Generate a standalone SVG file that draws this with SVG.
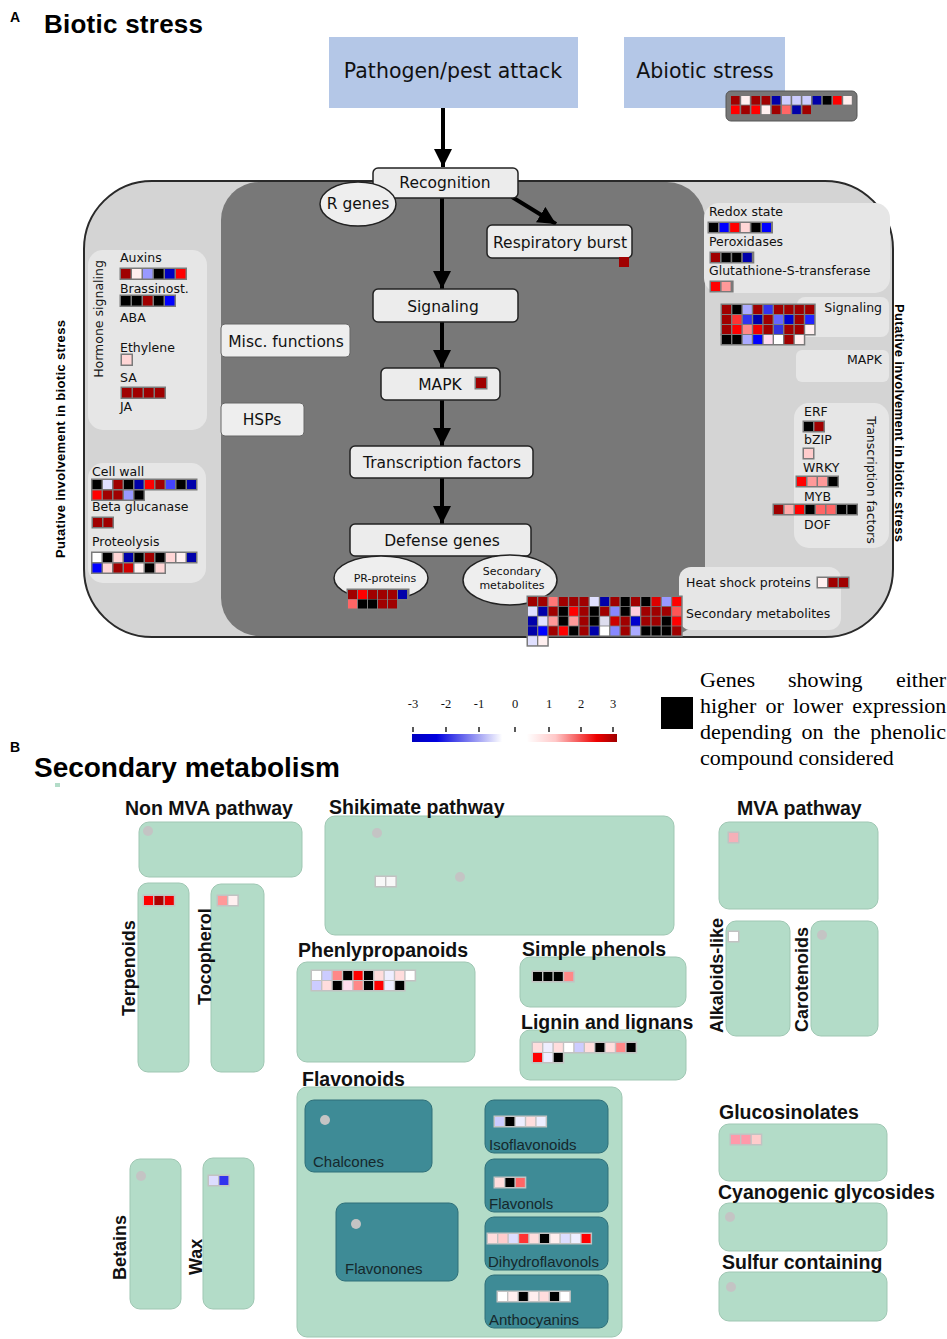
<svg xmlns="http://www.w3.org/2000/svg" width="947" height="1339" viewBox="0 0 947 1339">
<style>
.dr{fill:#a00000}.r{fill:#ff0000}.k{fill:#000}.b{fill:#0000aa}.bb{fill:#0000ff}.lv{fill:#9999ff}.lw{fill:#e0e0ff}.pk{fill:#ffd6d6}.pw{fill:#fff0f0}.sa{fill:#ff6666}.sp{fill:#ff9999}.w{fill:#fff}.mb{fill:#3333ee}
.bgA{fill:#7a7a7a}.bgB{fill:#c2c2c2}
.t{font-family:"DejaVu Sans",sans-serif;fill:#111}
.lab{font-family:"DejaVu Sans",sans-serif;font-size:12.5px;fill:#111}
.node{fill:#ececec;stroke:#222;stroke-width:1.5}
.nl{font-family:"DejaVu Sans",sans-serif;font-size:15.5px;fill:#111;text-anchor:middle}
.pan{fill:#e6e6e6}
.gb{fill:#b3dcc8;stroke:#9fc7b3;stroke-width:1}
.tb{fill:#3e8b96;stroke:#2e6f79;stroke-width:1}
.bt{font-family:"Liberation Sans",Arial,sans-serif;font-weight:bold;font-size:19.5px;fill:#111}
.vt{font-family:"Liberation Sans",Arial,sans-serif;font-weight:bold;font-size:18px;fill:#111}
.fl{font-family:"Liberation Sans",Arial,sans-serif;font-size:15px;fill:#15282c}
.dot{fill:#c4c4c4}
.sc{font-family:"Liberation Serif","Times New Roman",serif;font-size:12.5px;fill:#111;text-anchor:middle}
.lg{font-family:"Liberation Serif","Times New Roman",serif;font-size:22px;fill:#000}
</style>
<defs>
<marker id="ah" markerUnits="userSpaceOnUse" viewBox="0 0 16 16" refX="16" refY="8" markerWidth="18" markerHeight="18" orient="auto">
<path d="M0,0 L16,8 L0,16 z" fill="#000"/>
</marker>
<linearGradient id="grad" x1="412" y1="0" x2="617" y2="0" gradientUnits="userSpaceOnUse">
<stop offset="0" stop-color="#0000c0"/>
<stop offset="0.12" stop-color="#0000e0"/>
<stop offset="0.44" stop-color="#ffffff"/>
<stop offset="0.56" stop-color="#ffffff"/>
<stop offset="0.7" stop-color="#ffc8c8"/>
<stop offset="0.9" stop-color="#ee0000"/>
<stop offset="1" stop-color="#a00000"/>
</linearGradient>
</defs>
<rect width="947" height="1339" fill="#fff"/>

<!-- Section A header -->
<text x="10" y="22" font-family="Liberation Sans,Arial,sans-serif" font-weight="bold" font-size="14">A</text>
<text x="44" y="33" font-family="Liberation Sans,Arial,sans-serif" font-weight="bold" font-size="26" textLength="159">Biotic stress</text>

<g id="pathogen">
<rect x="329" y="37" width="249" height="71" fill="#b4c7e7"/>
<text class="t" x="453" y="78" font-size="20.5" text-anchor="middle">Pathogen/pest attack</text>
</g>
<g id="abiotic">
<rect x="624" y="37" width="161" height="71" fill="#b4c7e7"/>
<text class="t" x="705" y="78" font-size="20.5" text-anchor="middle">Abiotic stress</text>
<rect x="726" y="91" width="131" height="30" rx="5" fill="#777" stroke="#555"/>
<g>
<rect class="dr" x="731" y="96" width="8.6" height="8.6"/><rect class="pw" x="741.2" y="96" width="8.6" height="8.6"/><rect class="dr" x="751.4" y="96" width="8.6" height="8.6"/><rect class="dr" x="761.6" y="96" width="8.6" height="8.6"/><rect class="b" x="771.8" y="96" width="8.6" height="8.6"/><rect fill="#ccccff" x="782" y="96" width="8.6" height="8.6"/><rect fill="#ccccff" x="792.2" y="96" width="8.6" height="8.6"/><rect fill="#ccccff" x="802.4" y="96" width="8.6" height="8.6"/><rect class="b" x="812.6" y="96" width="8.6" height="8.6"/><rect class="k" x="822.8" y="96" width="8.6" height="8.6"/><rect class="r" x="833" y="96" width="8.6" height="8.6"/><rect class="pw" x="843.2" y="96" width="8.6" height="8.6"/>
<rect class="r" x="731" y="105.5" width="8.6" height="8.6"/><rect class="dr" x="741.2" y="105.5" width="8.6" height="8.6"/><rect class="r" x="751.4" y="105.5" width="8.6" height="8.6"/><rect class="pw" x="761.6" y="105.5" width="8.6" height="8.6"/><rect class="dr" x="771.8" y="105.5" width="8.6" height="8.6"/><rect class="sa" x="782" y="105.5" width="8.6" height="8.6"/><rect class="b" x="792.2" y="105.5" width="8.6" height="8.6"/><rect class="dr" x="802.4" y="105.5" width="8.6" height="8.6"/>
</g>
</g>

<!-- Outer area -->
<g id="biotic-area">
<rect x="84" y="181" width="809" height="456" rx="68" fill="#d4d4d4" stroke="#2a2a2a" stroke-width="2"/>
<rect x="221" y="182" width="484" height="454" rx="38" fill="#787878"/>
<text x="65" y="439" transform="rotate(-90 65 439)" font-family="Liberation Sans,Arial,sans-serif" font-weight="bold" font-size="13" text-anchor="middle" textLength="238">Putative involvement in biotic stress</text>
<text x="895" y="423" transform="rotate(90 895 423)" font-family="Liberation Sans,Arial,sans-serif" font-weight="bold" font-size="13" text-anchor="middle" textLength="238">Putative involvement in biotic stress</text>
</g>

<!-- Hormone signaling panel -->
<g id="hormone">
<rect class="pan" x="88" y="250" width="119" height="180" rx="15"/>
<text class="lab" x="103" y="319" transform="rotate(-90 103 319)" text-anchor="middle" font-size="13">Hormone signaling</text>
<text class="lab" x="120" y="262">Auxins</text>
<rect class="bgA" x="119.5" y="267.5" width="67.5" height="12.5"/>
<rect class="dr" x="121" y="269" width="9.5" height="9.5"/><rect class="pw" x="132" y="269" width="9.5" height="9.5"/><rect class="lv" x="143" y="269" width="9.5" height="9.5"/><rect class="k" x="154" y="269" width="9.5" height="9.5"/><rect fill="#0000c0" x="165" y="269" width="9.5" height="9.5"/><rect class="r" x="176" y="269" width="9.5" height="9.5"/>
<text class="lab" x="120" y="293">Brassinost.</text>
<rect class="bgA" x="119.5" y="294.5" width="56.5" height="12.5"/>
<rect class="k" x="121" y="296" width="9.5" height="9.5"/><rect class="k" x="132" y="296" width="9.5" height="9.5"/><rect class="dr" x="143" y="296" width="9.5" height="9.5"/><rect class="k" x="154" y="296" width="9.5" height="9.5"/><rect class="bb" x="165" y="296" width="9.5" height="9.5"/>
<text class="lab" x="120" y="322">ABA</text>
<text class="lab" x="120" y="352">Ethylene</text>
<rect class="bgA" x="120.5" y="353.5" width="12.5" height="12.5"/>
<rect class="pk" x="122" y="355" width="9.5" height="9.5"/>
<text class="lab" x="120" y="382">SA</text>
<rect class="bgA" x="120.5" y="386.5" width="45.5" height="12.5"/>
<rect class="dr" x="122" y="388" width="9.5" height="9.5"/><rect class="dr" x="133" y="388" width="9.5" height="9.5"/><rect class="dr" x="144" y="388" width="9.5" height="9.5"/><rect class="dr" x="155" y="388" width="9.5" height="9.5"/>
<text class="lab" x="120" y="411">JA</text>
</g>

<!-- Cell wall panel -->
<g id="cellwall">
<rect class="pan" x="88" y="463" width="118" height="120" rx="15"/>
<text class="lab" x="92" y="476">Cell wall</text>
<rect class="bgA" x="91" y="478.5" width="106.5" height="12"/>
<rect class="bgA" x="91" y="489" width="54" height="12"/>
<rect class="k" x="92.5" y="480" width="9" height="9"/><rect class="lw" x="103" y="480" width="9" height="9"/><rect class="dr" x="113.5" y="480" width="9" height="9"/><rect class="k" x="124" y="480" width="9" height="9"/><rect class="b" x="134.5" y="480" width="9" height="9"/><rect class="r" x="145" y="480" width="9" height="9"/><rect class="dr" x="155.5" y="480" width="9" height="9"/><rect fill="#4444ff" x="166" y="480" width="9" height="9"/><rect class="k" x="176.5" y="480" width="9" height="9"/><rect class="b" x="187" y="480" width="9" height="9"/>
<rect class="r" x="92.5" y="490.5" width="9" height="9"/><rect class="dr" x="103" y="490.5" width="9" height="9"/><rect class="dr" x="113.5" y="490.5" width="9" height="9"/><rect class="lv" x="124" y="490.5" width="9" height="9"/><rect class="k" x="134.5" y="490.5" width="9" height="9"/>
<text class="lab" x="92" y="511">Beta glucanase</text>
<rect class="bgA" x="91.5" y="516.5" width="22.5" height="12"/>
<rect class="dr" x="93" y="518" width="9" height="9"/><rect class="dr" x="103.5" y="518" width="9" height="9"/>
<text class="lab" x="92" y="546">Proteolysis</text>
<rect class="bgA" x="91" y="551.5" width="106.5" height="12"/>
<rect class="bgA" x="91" y="562" width="75" height="12"/>
<rect class="w" x="92.5" y="553" width="9" height="9"/><rect class="k" x="103" y="553" width="9" height="9"/><rect class="pk" x="113.5" y="553" width="9" height="9"/><rect class="b" x="124" y="553" width="9" height="9"/><rect class="k" x="134.5" y="553" width="9" height="9"/><rect class="dr" x="145" y="553" width="9" height="9"/><rect class="k" x="155.5" y="553" width="9" height="9"/><rect class="pk" x="166" y="553" width="9" height="9"/><rect class="pw" x="176.5" y="553" width="9" height="9"/><rect class="b" x="187" y="553" width="9" height="9"/>
<rect class="bb" x="92.5" y="563.5" width="9" height="9"/><rect class="pk" x="103" y="563.5" width="9" height="9"/><rect class="dr" x="113.5" y="563.5" width="9" height="9"/><rect fill="#d00000" x="124" y="563.5" width="9" height="9"/><rect class="pw" x="134.5" y="563.5" width="9" height="9"/><rect class="k" x="145" y="563.5" width="9" height="9"/><rect class="pk" x="155.5" y="563.5" width="9" height="9"/>
</g>

<!-- Right panels -->
<g id="redox">
<rect class="pan" x="704" y="203" width="186" height="90" rx="15"/>
<text class="lab" x="709" y="216">Redox state</text>
<rect class="bgA" x="707.5" y="221.5" width="65.5" height="12"/>
<rect class="k" x="709" y="223" width="9" height="9"/><rect class="bb" x="719.6" y="223" width="9" height="9"/><rect class="r" x="730.2" y="223" width="9" height="9"/><rect class="pk" x="740.8" y="223" width="9" height="9"/><rect class="k" x="751.4" y="223" width="9" height="9"/><rect class="bb" x="762" y="223" width="9" height="9"/>
<text class="lab" x="709" y="246">Peroxidases</text>
<rect class="bgA" x="709.5" y="251.5" width="44.8" height="12"/>
<rect class="dr" x="711" y="253" width="9" height="9"/><rect class="k" x="721.6" y="253" width="9" height="9"/><rect class="k" x="732.2" y="253" width="9" height="9"/><rect class="b" x="742.8" y="253" width="9" height="9"/>
<text class="lab" x="709" y="275">Glutathione-S-transferase</text>
<rect class="bgA" x="709.5" y="280.5" width="24.1" height="12"/>
<rect class="r" x="711" y="282" width="9" height="9"/><rect class="sp" x="721.6" y="282" width="9" height="9"/>
</g>
<g id="signaling-right">
<rect class="pan" x="797" y="297" width="92" height="40" rx="8"/>
<text class="lab" x="882" y="312" text-anchor="end">Signaling</text>
<rect class="bgA" x="720.5" y="303.5" width="95.2" height="32"/>
<rect class="bgA" x="720.5" y="333.5" width="84.8" height="12"/>
<rect class="dr" x="722" y="305" width="9" height="9"/><rect class="k" x="732.4" y="305" width="9" height="9"/><rect fill="#aaaaff" x="742.8" y="305" width="9" height="9"/><rect class="dr" x="753.2" y="305" width="9" height="9"/><rect class="mb" x="763.6" y="305" width="9" height="9"/><rect class="dr" x="774" y="305" width="9" height="9"/><rect class="dr" x="784.4" y="305" width="9" height="9"/><rect class="dr" x="794.8" y="305" width="9" height="9"/><rect class="dr" x="805.2" y="305" width="9" height="9"/>
<rect class="dr" x="722" y="315" width="9" height="9"/><rect fill="#ff3333" x="732.4" y="315" width="9" height="9"/><rect class="mb" x="742.8" y="315" width="9" height="9"/><rect class="b" x="753.2" y="315" width="9" height="9"/><rect class="dr" x="763.6" y="315" width="9" height="9"/><rect fill="#6666ff" x="774" y="315" width="9" height="9"/><rect fill="#0000cc" x="784.4" y="315" width="9" height="9"/><rect class="dr" x="794.8" y="315" width="9" height="9"/><rect fill="#2222ff" x="805.2" y="315" width="9" height="9"/>
<rect class="dr" x="722" y="325" width="9" height="9"/><rect class="r" x="732.4" y="325" width="9" height="9"/><rect fill="#ff8888" x="742.8" y="325" width="9" height="9"/><rect fill="#ee0000" x="753.2" y="325" width="9" height="9"/><rect class="dr" x="763.6" y="325" width="9" height="9"/><rect fill="#3333dd" x="774" y="325" width="9" height="9"/><rect class="dr" x="784.4" y="325" width="9" height="9"/><rect class="dr" x="794.8" y="325" width="9" height="9"/><rect class="pw" x="805.2" y="325" width="9" height="9"/>
<rect class="k" x="722" y="335" width="9" height="9"/><rect class="k" x="732.4" y="335" width="9" height="9"/><rect fill="#aaaaff" x="742.8" y="335" width="9" height="9"/><rect class="bb" x="753.2" y="335" width="9" height="9"/><rect fill="#ffddee" x="763.6" y="335" width="9" height="9"/><rect class="w" x="774" y="335" width="9" height="9"/><rect class="dr" x="784.4" y="335" width="9" height="9"/><rect class="pw" x="794.8" y="335" width="9" height="9"/>
</g>
<g id="mapk-right">
<rect class="pan" x="796" y="350" width="93" height="32" rx="6"/>
<text class="lab" x="882" y="364" text-anchor="end">MAPK</text>
</g>
<g id="tf-right">
<rect class="pan" x="794" y="403" width="95" height="145" rx="15"/>
<text class="lab" x="867" y="480" transform="rotate(90 867 480)" text-anchor="middle" font-size="13">Transcription factors</text>
<text class="lab" x="804" y="416">ERF</text>
<rect class="bgA" x="802.5" y="420.5" width="22.5" height="12"/>
<rect class="k" x="804" y="422" width="9" height="9"/><rect class="dr" x="814.5" y="422" width="9" height="9"/>
<text class="lab" x="804" y="444">bZIP</text>
<rect class="bgA" x="802.5" y="447.5" width="12" height="12"/>
<rect fill="#ffcccc" x="804" y="449" width="9" height="9"/>
<text class="lab" x="803" y="472">WRKY</text>
<rect class="bgA" x="795.5" y="475.5" width="43.5" height="12"/>
<rect class="r" x="797" y="477" width="9" height="9"/><rect class="sp" x="807.5" y="477" width="9" height="9"/><rect class="sp" x="818" y="477" width="9" height="9"/><rect class="k" x="828.5" y="477" width="9" height="9"/>
<text class="lab" x="804" y="501">MYB</text>
<rect class="bgA" x="772.5" y="503.5" width="85.5" height="12"/>
<rect class="dr" x="774" y="505" width="9" height="9"/><rect fill="#ffaaaa" x="784.5" y="505" width="9" height="9"/><rect class="r" x="795" y="505" width="9" height="9"/><rect class="k" x="805.5" y="505" width="9" height="9"/><rect class="sa" x="816" y="505" width="9" height="9"/><rect class="sa" x="826.5" y="505" width="9" height="9"/><rect class="k" x="837" y="505" width="9" height="9"/><rect class="k" x="847.5" y="505" width="9" height="9"/>
<text class="lab" x="804" y="529">DOF</text>
</g>
<g id="hsp-secmet-right">
<rect class="pan" x="679" y="567" width="162" height="63" rx="12"/>
<text class="lab" x="686" y="587">Heat shock proteins</text>
<rect class="bgA" x="816.5" y="576.5" width="33" height="12"/>
<rect class="pw" x="818" y="578" width="9" height="9"/><rect class="dr" x="828.5" y="578" width="9" height="9"/><rect class="dr" x="839" y="578" width="9" height="9"/>
<text class="lab" x="686" y="618">Secondary metabolites</text>
</g>

<!-- Side boxes in dark area -->
<g id="misc"><rect x="221" y="324" width="129" height="33" rx="4" fill="#eeeeee" stroke="#666" stroke-width="1"/><text class="nl" x="286" y="347">Misc. functions</text></g>
<g id="hsps"><rect x="221" y="403" width="83" height="33" rx="4" fill="#eeeeee" stroke="#666" stroke-width="1"/><text class="nl" x="262" y="425">HSPs</text></g>

<!-- Connectors -->
<g id="connectors" stroke="#000" stroke-width="4" fill="none">
<line x1="443" y1="108" x2="443" y2="167" marker-end="url(#ah)"/>
<line x1="442" y1="198" x2="442" y2="289" marker-end="url(#ah)"/>
<line x1="512" y1="197" x2="556" y2="224" marker-end="url(#ah)"/>
<line x1="442" y1="322" x2="442" y2="368" marker-end="url(#ah)"/>
<line x1="442" y1="400" x2="442" y2="446" marker-end="url(#ah)"/>
<line x1="442" y1="478" x2="442" y2="524" marker-end="url(#ah)"/>
</g>

<!-- Main flow nodes -->
<g id="recognition"><rect class="node" x="373" y="168" width="145" height="30" rx="5"/><text class="nl" x="445" y="188">Recognition</text></g>
<g id="rgenes"><ellipse cx="358" cy="204" rx="38" ry="22" fill="#eeeeee" stroke="#222" stroke-width="1.5"/><text class="nl" x="358" y="209">R genes</text></g>
<g id="respiratory"><rect class="node" x="487" y="225" width="145" height="33" rx="5"/><text class="nl" x="560" y="248">Respiratory burst</text><rect class="dr" x="619" y="257" width="10" height="10"/></g>
<g id="signaling"><rect class="node" x="373" y="289" width="145" height="33" rx="5"/><text class="nl" x="443" y="312">Signaling</text></g>
<g id="mapk"><rect class="node" x="381" y="368" width="119" height="32" rx="5"/><text class="nl" x="440" y="390">MAPK</text><rect class="bgA" x="474.5" y="376.5" width="13" height="13"/><rect class="dr" x="476" y="378" width="10" height="10"/></g>
<g id="tf"><rect class="node" x="350" y="446" width="183" height="32" rx="5"/><text class="nl" x="442" y="468">Transcription factors</text></g>
<g id="defense"><rect class="node" x="350" y="524" width="181" height="32" rx="5"/><text class="nl" x="442" y="546">Defense genes</text></g>
<g id="pr">
<ellipse cx="381" cy="578" rx="47" ry="22" fill="#eeeeee" stroke="#222" stroke-width="1.5"/>
<text class="t" x="385" y="582" font-size="11" text-anchor="middle">PR-proteins</text>
<rect class="bgA" x="346.5" y="588.5" width="63" height="12"/>
<rect class="bgA" x="346.5" y="598" width="53" height="12"/>
<rect class="dr" x="348" y="590" width="9" height="9"/><rect class="r" x="358" y="590" width="9" height="9"/><rect class="dr" x="368" y="590" width="9" height="9"/><rect class="dr" x="378" y="590" width="9" height="9"/><rect class="dr" x="388" y="590" width="9" height="9"/><rect class="b" x="398" y="590" width="9" height="9"/>
<rect class="sa" x="348" y="599.5" width="9" height="9"/><rect class="k" x="358" y="599.5" width="9" height="9"/><rect class="k" x="368" y="599.5" width="9" height="9"/><rect class="dr" x="378" y="599.5" width="9" height="9"/><rect class="dr" x="388" y="599.5" width="9" height="9"/>
</g>
<g id="secmet">
<ellipse cx="510" cy="580" rx="47" ry="25" fill="#eeeeee" stroke="#222" stroke-width="1.5"/>
<text class="t" x="512" y="575" font-size="11" text-anchor="middle">Secondary</text>
<text class="t" x="512" y="589" font-size="11" text-anchor="middle">metabolites</text>
<rect class="bgA" x="526.5" y="595.5" width="156.2" height="41.2"/>
<rect class="bgA" x="526.5" y="634.7" width="22.3" height="12"/>
<rect class="dr" x="528" y="597" width="9" height="9"/><rect class="dr" x="538.3" y="597" width="9" height="9"/><rect fill="#ff7777" x="548.6" y="597" width="9" height="9"/><rect class="dr" x="558.9" y="597" width="9" height="9"/><rect class="dr" x="569.2" y="597" width="9" height="9"/><rect class="dr" x="579.5" y="597" width="9" height="9"/><rect class="lw" x="589.8" y="597" width="9" height="9"/><rect class="b" x="600.1" y="597" width="9" height="9"/><rect class="dr" x="610.4" y="597" width="9" height="9"/><rect class="k" x="620.7" y="597" width="9" height="9"/><rect class="dr" x="631" y="597" width="9" height="9"/><rect class="k" x="641.3" y="597" width="9" height="9"/><rect fill="#dd0000" x="651.6" y="597" width="9" height="9"/><rect class="lv" x="661.9" y="597" width="9" height="9"/><rect class="r" x="672.2" y="597" width="9" height="9"/>
<rect class="lw" x="528" y="606.8" width="9" height="9"/><rect class="b" x="538.3" y="606.8" width="9" height="9"/><rect class="dr" x="548.6" y="606.8" width="9" height="9"/><rect class="k" x="558.9" y="606.8" width="9" height="9"/><rect class="r" x="569.2" y="606.8" width="9" height="9"/><rect class="dr" x="579.5" y="606.8" width="9" height="9"/><rect class="k" x="589.8" y="606.8" width="9" height="9"/><rect class="dr" x="600.1" y="606.8" width="9" height="9"/><rect fill="#8888ff" x="610.4" y="606.8" width="9" height="9"/><rect class="k" x="620.7" y="606.8" width="9" height="9"/><rect fill="#ffccdd" x="631" y="606.8" width="9" height="9"/><rect class="dr" x="641.3" y="606.8" width="9" height="9"/><rect class="dr" x="651.6" y="606.8" width="9" height="9"/><rect class="dr" x="661.9" y="606.8" width="9" height="9"/><rect fill="#ff5555" x="672.2" y="606.8" width="9" height="9"/>
<rect class="b" x="528" y="616.6" width="9" height="9"/><rect class="lw" x="538.3" y="616.6" width="9" height="9"/><rect class="sp" x="548.6" y="616.6" width="9" height="9"/><rect class="k" x="558.9" y="616.6" width="9" height="9"/><rect class="sp" x="569.2" y="616.6" width="9" height="9"/><rect class="dr" x="579.5" y="616.6" width="9" height="9"/><rect class="k" x="589.8" y="616.6" width="9" height="9"/><rect fill="#ddddee" x="600.1" y="616.6" width="9" height="9"/><rect fill="#cc0000" x="610.4" y="616.6" width="9" height="9"/><rect class="dr" x="620.7" y="616.6" width="9" height="9"/><rect fill="#0000cc" x="631" y="616.6" width="9" height="9"/><rect class="dr" x="641.3" y="616.6" width="9" height="9"/><rect class="dr" x="651.6" y="616.6" width="9" height="9"/><rect class="k" x="661.9" y="616.6" width="9" height="9"/><rect class="r" x="672.2" y="616.6" width="9" height="9"/>
<rect class="b" x="528" y="626.4" width="9" height="9"/><rect class="bb" x="538.3" y="626.4" width="9" height="9"/><rect class="dr" x="548.6" y="626.4" width="9" height="9"/><rect class="r" x="558.9" y="626.4" width="9" height="9"/><rect class="k" x="569.2" y="626.4" width="9" height="9"/><rect class="dr" x="579.5" y="626.4" width="9" height="9"/><rect class="b" x="589.8" y="626.4" width="9" height="9"/><rect class="w" x="600.1" y="626.4" width="9" height="9"/><rect fill="#8888ff" x="610.4" y="626.4" width="9" height="9"/><rect class="dr" x="620.7" y="626.4" width="9" height="9"/><rect fill="#aaaaff" x="631" y="626.4" width="9" height="9"/><rect class="k" x="641.3" y="626.4" width="9" height="9"/><rect class="k" x="651.6" y="626.4" width="9" height="9"/><rect class="k" x="661.9" y="626.4" width="9" height="9"/><rect class="dr" x="672.2" y="626.4" width="9" height="9"/>
<rect class="lw" x="528" y="636.2" width="9" height="9"/><rect class="pw" x="538.3" y="636.2" width="9" height="9"/>
</g>

<!-- Legend -->
<g id="legend">
<text class="sc" x="413" y="708">-3</text><text class="sc" x="446" y="708">-2</text><text class="sc" x="479" y="708">-1</text><text class="sc" x="515" y="708">0</text><text class="sc" x="549" y="708">1</text><text class="sc" x="581" y="708">2</text><text class="sc" x="613" y="708">3</text>
<g stroke="#222" stroke-width="1.5"><line x1="413" y1="727" x2="413" y2="732"/><line x1="446" y1="727" x2="446" y2="732"/><line x1="479" y1="727" x2="479" y2="732"/><line x1="515" y1="727" x2="515" y2="732"/><line x1="549" y1="727" x2="549" y2="732"/><line x1="581" y1="727" x2="581" y2="732"/><line x1="613" y1="727" x2="613" y2="732"/></g>
<rect x="412" y="734" width="205" height="8" fill="url(#grad)"/>
<rect x="661" y="697" width="32" height="32" fill="#000"/>
<text class="lg" x="700" y="687">Genes</text>
<text class="lg" x="788" y="687">showing</text>
<text class="lg" x="946" y="687" text-anchor="end">either</text>
<text class="lg" x="700" y="713" word-spacing="3.7">higher or lower expression</text>
<text class="lg" x="700" y="739" word-spacing="4.4">depending on the phenolic</text>
<text class="lg" x="700" y="765">compound considered</text>
</g>

<!-- Section B -->
<text x="10" y="752" font-family="Liberation Sans,Arial,sans-serif" font-weight="bold" font-size="14">B</text>
<text x="34" y="777" font-family="Liberation Sans,Arial,sans-serif" font-weight="bold" font-size="28" textLength="306">Secondary metabolism</text>
<rect x="55" y="783" width="5" height="4" fill="#b3dcc8"/>

<g id="nonmva"><rect class="gb" x="139" y="822" width="163" height="55" rx="10"/><circle class="dot" cx="148" cy="831" r="5"/><text class="bt" x="125" y="815">Non MVA pathway</text></g>
<g id="shikimate"><rect class="gb" x="325" y="816" width="349" height="119" rx="10"/><circle class="dot" cx="377" cy="833" r="5"/><circle class="dot" cx="460" cy="877" r="5"/>
<rect class="bgB" x="374.5" y="875.5" width="22.4" height="12"/><rect fill="#f8f8f8" x="376" y="877" width="9" height="9"/><rect fill="#f8f8f8" x="386.4" y="877" width="9" height="9"/><text class="bt" x="329" y="814">Shikimate pathway</text></g>
<g id="mva"><rect class="gb" x="719" y="822" width="159" height="87" rx="10"/>
<rect class="bgB" x="727.5" y="831.5" width="12" height="12"/><rect fill="#f6b0b8" x="729" y="833" width="9" height="9"/><text class="bt" x="737" y="815">MVA pathway</text></g>
<g id="terpenoids"><rect class="gb" x="138" y="883" width="51" height="189" rx="10"/><text class="vt" x="135" y="1016" transform="rotate(-90 135 1016)">Terpenoids</text>
<rect class="bgB" x="142.5" y="894.5" width="32.8" height="12"/><rect class="r" x="144" y="896" width="9" height="9"/><rect fill="#b00000" x="154.4" y="896" width="9" height="9"/><rect fill="#ee0000" x="164.8" y="896" width="9" height="9"/></g>
<g id="tocopherol"><rect class="gb" x="211" y="884" width="53" height="188" rx="10"/><text class="vt" x="211" y="1005" transform="rotate(-90 211 1005)">Tocopherol</text>
<rect class="bgB" x="216.5" y="894.5" width="22.4" height="12"/><rect class="sp" x="218" y="896" width="9" height="9"/><rect class="pw" x="228.4" y="896" width="9" height="9"/></g>
<g id="phenyl"><rect class="gb" x="297" y="962" width="178" height="100" rx="10"/><text class="bt" x="298" y="957">Phenlypropanoids</text>
<rect class="bgB" x="310.5" y="969.5" width="105.6" height="12"/><rect class="bgB" x="310.5" y="979.5" width="95.2" height="12"/>
<rect class="w" x="312" y="971" width="9" height="9"/><rect fill="#ccccff" x="322.4" y="971" width="9" height="9"/><rect fill="#ff8888" x="332.8" y="971" width="9" height="9"/><rect class="k" x="343.2" y="971" width="9" height="9"/><rect class="r" x="353.6" y="971" width="9" height="9"/><rect class="k" x="364" y="971" width="9" height="9"/><rect fill="#ffdddd" x="374.4" y="971" width="9" height="9"/><rect fill="#eeeeff" x="384.8" y="971" width="9" height="9"/><rect fill="#ffdddd" x="395.2" y="971" width="9" height="9"/><rect class="w" x="405.6" y="971" width="9" height="9"/>
<rect fill="#ccccff" x="312" y="981" width="9" height="9"/><rect fill="#ffdddd" x="322.4" y="981" width="9" height="9"/><rect class="k" x="332.8" y="981" width="9" height="9"/><rect fill="#ffddee" x="343.2" y="981" width="9" height="9"/><rect fill="#ff8888" x="353.6" y="981" width="9" height="9"/><rect class="k" x="364" y="981" width="9" height="9"/><rect class="r" x="374.4" y="981" width="9" height="9"/><rect fill="#eeeeff" x="384.8" y="981" width="9" height="9"/><rect class="k" x="395.2" y="981" width="9" height="9"/></g>
<g id="simplephenols"><rect class="gb" x="520" y="957" width="166" height="50" rx="10"/><text class="bt" x="522" y="956">Simple phenols</text>
<rect class="bgB" x="531.5" y="970.5" width="43.2" height="12"/><rect class="k" x="533" y="972" width="9" height="9"/><rect class="k" x="543.4" y="972" width="9" height="9"/><rect class="k" x="553.8" y="972" width="9" height="9"/><rect fill="#ff8888" x="564.2" y="972" width="9" height="9"/></g>
<g id="lignin"><rect class="gb" x="520" y="1030" width="166" height="50" rx="10"/><text class="bt" x="521" y="1029">Lignin and lignans</text>
<rect class="bgB" x="531.5" y="1041.5" width="105.6" height="12"/><rect class="bgB" x="531.5" y="1051.5" width="32.8" height="12"/>
<rect fill="#ffdddd" x="533" y="1043" width="9" height="9"/><rect fill="#eeeeff" x="543.4" y="1043" width="9" height="9"/><rect fill="#ffdddd" x="553.8" y="1043" width="9" height="9"/><rect class="w" x="564.2" y="1043" width="9" height="9"/><rect fill="#ccccff" x="574.6" y="1043" width="9" height="9"/><rect fill="#ffdddd" x="585" y="1043" width="9" height="9"/><rect class="k" x="595.4" y="1043" width="9" height="9"/><rect fill="#ffdddd" x="605.8" y="1043" width="9" height="9"/><rect fill="#ff8888" x="616.2" y="1043" width="9" height="9"/><rect class="k" x="626.6" y="1043" width="9" height="9"/>
<rect class="r" x="533" y="1053" width="9" height="9"/><rect fill="#eeeeff" x="543.4" y="1053" width="9" height="9"/><rect class="k" x="553.8" y="1053" width="9" height="9"/></g>
<g id="alkaloids"><rect class="gb" x="726" y="921" width="64" height="115" rx="10"/><text class="vt" x="723" y="1033" transform="rotate(-90 723 1033)" textLength="115">Alkaloids-like</text>
<rect class="bgB" x="727.5" y="930.5" width="12" height="12"/><rect class="w" x="729" y="932" width="9" height="9"/></g>
<g id="carotenoids"><rect class="gb" x="811" y="921" width="67" height="115" rx="10"/><text class="vt" x="808" y="1032" transform="rotate(-90 808 1032)">Carotenoids</text><circle class="dot" cx="822" cy="935" r="5"/></g>
<g id="flavonoids"><rect class="gb" x="297" y="1087" width="325" height="250" rx="10"/><text class="bt" x="302" y="1086">Flavonoids</text>
<g id="chalcones"><rect class="tb" x="305" y="1100" width="127" height="72" rx="9"/><circle class="dot" cx="325" cy="1120" r="5"/><text class="fl" x="313" y="1167">Chalcones</text></g>
<g id="flavonones"><rect class="tb" x="336" y="1203" width="122" height="78" rx="9"/><circle class="dot" cx="356" cy="1224" r="5"/><text class="fl" x="345" y="1274">Flavonones</text></g>
<g id="isoflavonoids"><rect class="tb" x="485" y="1100" width="123" height="53" rx="9"/>
<rect class="bgB" x="493.5" y="1115.5" width="53.6" height="12"/><rect fill="#ccccff" x="495" y="1117" width="9" height="9"/><rect class="k" x="505.4" y="1117" width="9" height="9"/><rect fill="#eeeeff" x="515.8" y="1117" width="9" height="9"/><rect fill="#ffdddd" x="526.2" y="1117" width="9" height="9"/><rect fill="#eeeeff" x="536.6" y="1117" width="9" height="9"/>
<text class="fl" x="489" y="1150">Isoflavonoids</text></g>
<g id="flavonols"><rect class="tb" x="485" y="1159" width="123" height="53" rx="9"/>
<rect class="bgB" x="493.5" y="1176.5" width="32.8" height="12"/><rect fill="#ffdddd" x="495" y="1178" width="9" height="9"/><rect class="k" x="505.4" y="1178" width="9" height="9"/><rect fill="#ff6666" x="515.8" y="1178" width="9" height="9"/>
<text class="fl" x="489" y="1209">Flavonols</text></g>
<g id="dihydroflavonols"><rect class="tb" x="485" y="1217" width="123" height="53" rx="9"/>
<rect class="bgB" x="486.5" y="1232.5" width="105.6" height="12"/>
<rect fill="#ffdddd" x="488" y="1234" width="9" height="9"/><rect fill="#ffcccc" x="498.4" y="1234" width="9" height="9"/><rect fill="#ddddff" x="508.8" y="1234" width="9" height="9"/><rect fill="#ff3333" x="519.2" y="1234" width="9" height="9"/><rect fill="#ffdddd" x="529.6" y="1234" width="9" height="9"/><rect class="k" x="540" y="1234" width="9" height="9"/><rect fill="#ffeeee" x="550.4" y="1234" width="9" height="9"/><rect fill="#ddddff" x="560.8" y="1234" width="9" height="9"/><rect fill="#eeeeff" x="571.2" y="1234" width="9" height="9"/><rect class="r" x="581.6" y="1234" width="9" height="9"/>
<text class="fl" x="488" y="1267">Dihydroflavonols</text></g>
<g id="anthocyanins"><rect class="tb" x="485" y="1275" width="123" height="53" rx="9"/>
<rect class="bgB" x="496.5" y="1290.5" width="74.4" height="12"/>
<rect class="w" x="498" y="1292" width="9" height="9"/><rect fill="#ffeeee" x="508.4" y="1292" width="9" height="9"/><rect class="k" x="518.8" y="1292" width="9" height="9"/><rect fill="#ffeeee" x="529.2" y="1292" width="9" height="9"/><rect fill="#ffdddd" x="539.6" y="1292" width="9" height="9"/><rect class="k" x="550" y="1292" width="9" height="9"/><rect class="w" x="560.4" y="1292" width="9" height="9"/>
<text class="fl" x="489" y="1325">Anthocyanins</text></g>
</g>
<g id="glucosinolates"><rect class="gb" x="719" y="1124" width="168" height="57" rx="10"/><text class="bt" x="719" y="1119">Glucosinolates</text>
<rect class="bgB" x="729.5" y="1133.5" width="32.8" height="12"/><rect fill="#ff99aa" x="731" y="1135" width="9" height="9"/><rect fill="#ff99aa" x="741.4" y="1135" width="9" height="9"/><rect fill="#ffcccc" x="751.8" y="1135" width="9" height="9"/></g>
<g id="cyanogenic"><rect class="gb" x="719" y="1203" width="168" height="48" rx="10"/><circle class="dot" cx="730" cy="1217" r="5"/><text class="bt" x="718" y="1199">Cyanogenic glycosides</text></g>
<g id="sulfur"><rect class="gb" x="719" y="1272" width="168" height="49" rx="10"/><circle class="dot" cx="731" cy="1287" r="5"/><text class="bt" x="722" y="1269">Sulfur containing</text></g>
<g id="betains"><rect class="gb" x="130" y="1159" width="51" height="150" rx="10"/><text class="vt" x="126" y="1280" transform="rotate(-90 126 1280)">Betains</text><circle class="dot" cx="141" cy="1176" r="5"/></g>
<g id="wax"><rect class="gb" x="203" y="1158" width="51" height="151" rx="10"/><text class="vt" x="202" y="1275" transform="rotate(-90 202 1275)">Wax</text>
<rect class="bgB" x="207.5" y="1174.5" width="22.4" height="12"/><rect fill="#ddddff" x="209" y="1176" width="9" height="9"/><rect fill="#3333ee" x="219.4" y="1176" width="9" height="9"/></g>
</svg>
